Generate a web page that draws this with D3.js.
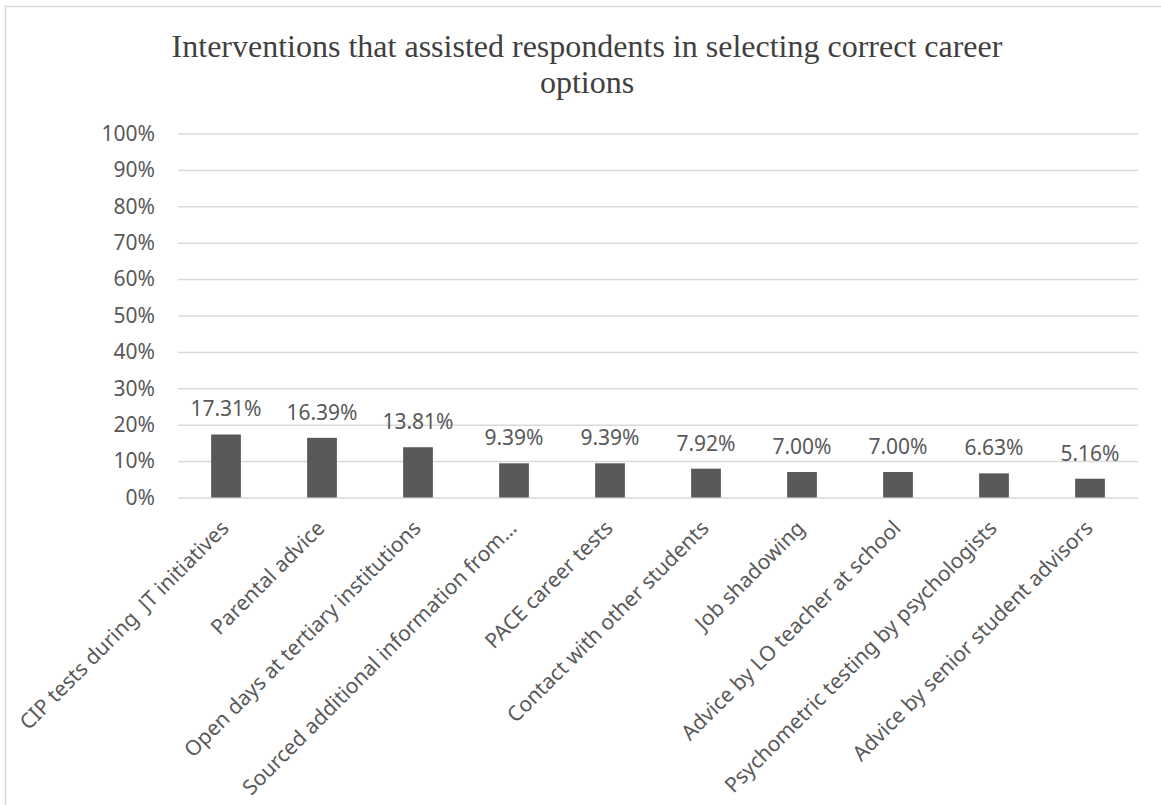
<!DOCTYPE html>
<html>
<head>
<meta charset="utf-8">
<script src="https://cdn.jsdelivr.net/npm/d3@7"></script>
<style>
  html, body { margin: 0; padding: 0; background: #fff; }
  svg { display: block; }
</style>
</head>
<body>
<svg id="chart" width="1161" height="805"></svg>
<script>
// Survey results: share of respondents per intervention
const categories = [
  "CIP tests during  JT initiatives",
  "Parental advice",
  "Open days at tertiary institutions",
  "Sourced additional information from…",
  "PACE career tests",
  "Contact with other students",
  "Job shadowing",
  "Advice by LO teacher at school",
  "Psychometric testing by psychologists",
  "Advice by senior student advisors"
];
const values = [17.31, 16.39, 13.81, 9.39, 9.39, 7.92, 7.00, 7.00, 6.63, 5.16];
const yTicks = [0, 10, 20, 30, 40, 50, 60, 70, 80, 90, 100];
const titleLines = [
  "Interventions that assisted respondents in selecting correct career",
  "options"
];

const W = 1161, H = 805;
const plot = { left: 178, right: 1138, top: 133.5, bottom: 497.5 };
const textColor = "#595959";
const sansFont = "'Noto Sans', 'Open Sans', sans-serif";
const labelSize = 21;

const svg = d3.select("#chart");

// chart area border
svg.append("rect")
  .attr("x", 5.5).attr("y", 6.5)
  .attr("width", W + 10).attr("height", H + 10)
  .attr("fill", "#fff")
  .attr("stroke", "#d9d9d9")
  .attr("stroke-width", 1.5);

// title
svg.append("g")
  .selectAll("text")
  .data(titleLines)
  .join("text")
  .attr("x", 587)
  .attr("y", (d, i) => 57 + i * 36)
  .attr("text-anchor", "middle")
  .attr("font-family", "'Liberation Serif', 'Times New Roman', serif")
  .attr("font-size", 32)
  .attr("fill", "#404040")
  .text(d => d);

const x = d3.scaleBand()
  .domain(categories)
  .range([plot.left, plot.right])
  .paddingInner(0.69)
  .paddingOuter(0.345);

const y = d3.scaleLinear()
  .domain([0, 100])
  .range([plot.bottom, plot.top]);

// horizontal gridlines + y labels
const yAxis = d3.axisLeft(y)
  .tickValues(yTicks)
  .tickSize(-(plot.right - plot.left))
  .tickPadding(23)
  .tickFormat(d => d + "%");

const gy = svg.append("g")
  .attr("transform", `translate(${plot.left},0)`)
  .call(yAxis);
gy.select(".domain").remove();
gy.selectAll(".tick line")
  .attr("stroke", "#d9d9d9")
  .attr("stroke-width", 1.5);
gy.selectAll(".tick text")
  .attr("fill", textColor)
  .attr("font-family", sansFont)
  .attr("font-size", labelSize);

// bars
svg.append("g")
  .selectAll("rect")
  .data(values)
  .join("rect")
  .attr("x", (d, i) => x(categories[i]))
  .attr("y", d => y(d))
  .attr("width", x.bandwidth())
  .attr("height", d => y(0) - y(d))
  .attr("fill", "#595959");

// value labels
svg.append("g")
  .selectAll("text")
  .data(values)
  .join("text")
  .attr("x", (d, i) => x(categories[i]) + x.bandwidth() / 2)
  .attr("y", d => y(d) - 18)
  .attr("text-anchor", "middle")
  .attr("font-family", sansFont)
  .attr("font-size", labelSize)
  .attr("fill", textColor)
  .text(d => d.toFixed(2) + "%");

// rotated category labels
svg.append("g")
  .selectAll("text")
  .data(categories)
  .join("text")
  .attr("transform", d => {
    const cx = x(d) + x.bandwidth() / 2 + 4;
    return `translate(${cx},${plot.bottom + 32}) rotate(-45)`;
  })
  .attr("text-anchor", "end")
  .attr("font-family", sansFont)
  .attr("font-size", labelSize)
  .attr("fill", textColor)
  .style("white-space", "pre")
  .text(d => d);
</script>
</body>
</html>
